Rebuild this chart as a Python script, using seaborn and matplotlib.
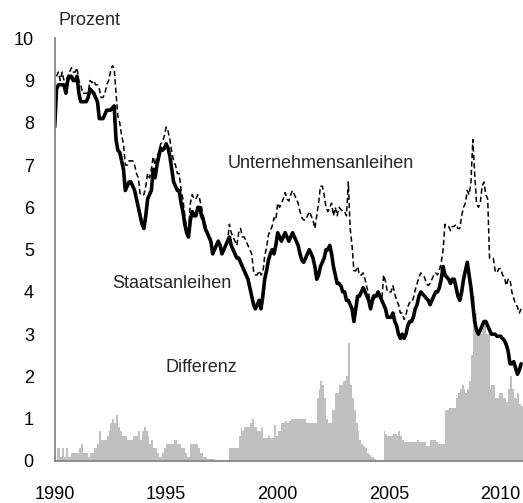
import numpy as np
import pandas as pd
import matplotlib
matplotlib.use("Agg")
import matplotlib.pyplot as plt
import seaborn as sns

# Monatswerte Januar 1990 - Dezember 2010, Prozent
staatsanleihen = [
    7.9, 8.8, 8.9, 8.9, 8.9, 8.9, 8.7, 9.0, 9.1, 9.1, 9.0, 9.0,        # 1990
    9.1, 8.7, 8.5, 8.5, 8.5, 8.5, 8.6, 8.8, 8.75, 8.7, 8.6, 8.5,       # 1991
    8.1, 8.1, 8.1, 8.2, 8.3, 8.3, 8.3, 8.35, 8.4, 7.6, 7.35, 7.3,      # 1992
    7.1, 6.9, 6.4, 6.5, 6.6, 6.6, 6.5, 6.4, 6.2, 6.0, 5.8, 5.6,        # 1993
    5.5, 5.8, 6.2, 6.3, 6.4, 6.9, 6.7, 7.0, 7.2, 7.4, 7.35, 7.4,       # 1994
    7.5, 7.4, 7.2, 6.9, 6.6, 6.5, 6.4, 6.4, 6.1, 5.9, 5.6, 5.4,        # 1995
    5.3, 5.7, 5.9, 5.8, 5.8, 6.0, 6.0, 5.8, 5.7, 5.5, 5.4, 5.3,        # 1996
    5.2, 4.9, 5.0, 5.1, 5.2, 5.1, 4.9, 5.0, 5.1, 5.2, 5.3, 5.1,        # 1997
    5.0, 4.9, 4.8, 4.8, 4.7, 4.6, 4.5, 4.4, 4.3, 4.1, 3.9, 3.7,        # 1998
    3.6, 3.7, 3.8, 3.6, 3.9, 4.3, 4.5, 4.75, 4.9, 5.0, 4.9, 5.1,       # 1999
    5.4, 5.3, 5.2, 5.3, 5.4, 5.3, 5.2, 5.3, 5.4, 5.3, 5.2, 5.1,        # 2000
    4.9, 4.75, 4.7, 4.8, 4.9, 5.0, 4.9, 4.8, 4.6, 4.3, 4.4, 4.6,       # 2001
    4.7, 4.8, 5.0, 5.0, 5.1, 4.9, 4.6, 4.4, 4.2, 4.2, 4.15, 4.0,       # 2002
    4.0, 3.8, 3.8, 3.7, 3.6, 3.3, 3.6, 3.9, 3.9, 4.0, 4.1, 4.0,        # 2003
    3.9, 3.8, 3.6, 3.8, 3.9, 3.9, 4.0, 3.9, 3.8, 3.7, 3.6, 3.4,        # 2004
    3.4, 3.4, 3.5, 3.3, 3.2, 3.0, 2.9, 3.0, 2.9, 3.0, 3.2, 3.3,        # 2005
    3.3, 3.4, 3.6, 3.7, 3.9, 4.0, 3.95, 3.9, 3.85, 3.8, 3.7, 3.8,      # 2006
    3.9, 4.0, 4.0, 4.1, 4.3, 4.6, 4.4, 4.35, 4.3, 4.2, 4.3, 4.3,       # 2007
    4.1, 3.9, 3.8, 4.0, 4.3, 4.5, 4.7, 4.4, 4.1, 3.7, 3.3, 3.1,        # 2008
    3.0, 3.1, 3.2, 3.3, 3.3, 3.2, 3.1, 3.0, 3.0, 3.0, 2.95, 2.95,      # 2009
    2.95, 2.9, 2.85, 2.75, 2.6, 2.3, 2.3, 2.35, 2.2, 2.05, 2.15, 2.3,  # 2010
]

differenz = [
    np.nan, 0.3, 0.3, 0.1, 0.3, 0.1, 0.3, 0.1, 0.1, 0.2, 0.2, 0.2,     # 1990
    0.2, 0.3, 0.4, 0.2, 0.2, 0.2, 0.1, 0.2, 0.2, 0.3, 0.3, 0.4,        # 1991
    0.7, 0.5, 0.5, 0.5, 0.6, 0.7, 0.9, 1.0, 0.9, 1.1, 0.8, 0.7,        # 1992
    0.6, 0.6, 0.6, 0.5, 0.5, 0.5, 0.6, 0.6, 0.6, 0.7, 0.5, 0.7,        # 1993
    0.8, 0.7, 0.6, 0.4, 0.5, 0.3, 0.3, 0.2, 0.1, 0.1, 0.2, 0.3,        # 1994
    0.4, 0.4, 0.4, 0.4, 0.5, 0.5, 0.4, 0.4, 0.3, 0.3, 0.2, 0.1,        # 1995
    0.1, 0.4, 0.4, 0.4, 0.4, 0.3, 0.2, 0.2, 0.1, 0.1, 0.05, 0.05,      # 1996
    0.05, 0.05, 0.0, 0.0, 0.0, 0.0, 0.0, 0.0, 0.0, 0.0, 0.3, 0.3,      # 1997
    0.3, 0.3, 0.3, 0.6, 0.8, 0.7, 0.8, 0.8, 0.8, 0.9, 1.0, 0.8,        # 1998
    0.8, 0.7, 0.7, 0.8, 0.55, 0.55, 0.55, 0.6, 0.55, 0.55, 0.85, 0.6,  # 1999
    0.7, 0.7, 0.9, 0.9, 0.95, 0.9, 0.95, 1.0, 1.0, 1.0, 1.0, 1.0,      # 2000
    1.0, 1.0, 1.0, 0.9, 0.9, 0.9, 0.9, 0.9, 0.9, 1.5, 1.7, 1.9,        # 2001
    1.8, 1.5, 1.0, 0.9, 0.9, 1.2, 1.2, 1.6, 1.6, 1.8, 1.8, 1.9,        # 2002
    1.9, 2.0, 2.8, 1.8, 1.5, 1.2, 0.9, 0.7, 0.5, 0.4, 0.35, 0.3,       # 2003
    0.2, 0.15, 0.1, 0.1, 0.05, 0.0, 0.0, 0.0, 0.0, 0.7, 0.65, 0.6,     # 2004
    0.6, 0.6, 0.65, 0.65, 0.6, 0.7, 0.6, 0.5, 0.45, 0.45, 0.45, 0.45,  # 2005
    0.45, 0.45, 0.45, 0.5, 0.45, 0.45, 0.45, 0.45, 0.35, 0.35, 0.5, 0.5,  # 2006
    0.5, 0.45, 0.4, 0.4, 0.4, 0.4, 1.2, 1.2, 1.25, 1.25, 1.25, 1.25,   # 2007
    1.5, 1.6, 1.7, 1.8, 1.7, 1.6, 1.7, 1.9, 2.5, 3.9, 3.5, 3.0,        # 2008
    3.0, 3.0, 3.3, 3.3, 3.0, 3.0, 1.7, 1.8, 1.8, 1.5, 1.5, 1.6,        # 2009
    1.6, 1.5, 1.5, 1.4, 1.7, 2.0, 1.7, 1.5, 1.5, 1.6, 1.35, 1.3,       # 2010
]

x_ticks = [1990, 1995, 2000, 2005, 2010]
y_ticks = list(range(0, 11))

df = pd.DataFrame({
    "zeit": 1990 + np.arange(len(staatsanleihen)) / 12,
    "Staatsanleihen": staatsanleihen,
    "Differenz": differenz,
})
df["Unternehmensanleihen"] = df["Staatsanleihen"] + df["Differenz"]

sns.set_theme(style="white")
plt.rcParams["font.family"] = ["Liberation Sans", "DejaVu Sans"]

grau = "#868686"
fig = plt.figure(figsize=(5.23, 5.03), dpi=100)
ax = fig.add_axes([0.1046, 0.0835, 0.8954, 0.8404])

# Differenz als Balken
ax.bar(df["zeit"], df["Differenz"].fillna(0), width=1 / 12,
       color="#c0c0c0", linewidth=0, align="edge")

sns.lineplot(data=df, x="zeit", y="Unternehmensanleihen", ax=ax,
             color="black", linewidth=1.1, linestyle=(0, (3.5, 2)))
sns.lineplot(data=df, x="zeit", y="Staatsanleihen", ax=ax,
             color="black", linewidth=2.6)

ax.set_xlim(1990, 2011.0)
ax.set_ylim(0, 10)
ax.set_xticks(x_ticks)
ax.set_yticks(y_ticks)
ax.set_xlabel("")
ax.set_ylabel("")

for s in ["top", "right"]:
    ax.spines[s].set_visible(False)
for s in ["left", "bottom"]:
    ax.spines[s].set_color(grau)
    ax.spines[s].set_linewidth(1.3)

ax.tick_params(axis="both", direction="out", color=grau, width=1.2, length=4,
               labelsize=13, labelcolor="black")
ax.tick_params(axis="x", pad=14)
ax.tick_params(axis="y", pad=11)

ax.text(1990.15, 10.42, "Prozent", fontsize=13, ha="left", va="center",
        clip_on=False)
ax.text(2001.94, 7.03, "Unternehmensanleihen", fontsize=13, ha="center", va="center")
ax.text(1995.25, 4.21, "Staatsanleihen", fontsize=13, ha="center", va="center")
ax.text(1996.56, 2.21, "Differenz", fontsize=13, ha="center", va="center")

fig.savefig("out.png", dpi=100)
plt.close(fig)
